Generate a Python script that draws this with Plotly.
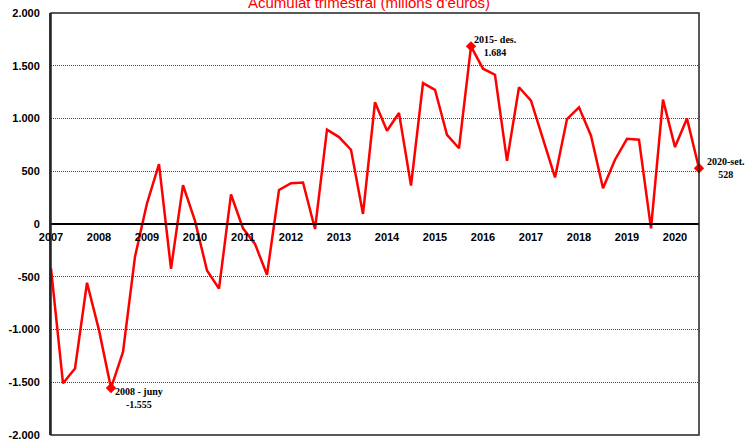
import plotly.graph_objects as go

# quarterly cumulative values, 2007-T1 .. 2020-T3 (milions d'euros)
valors = [
    -420, -1510, -1370, -557,          # 2007
    -1006, -1555, -1212, -310,         # 2008
    196, 567, -425, 368,               # 2009
    30, -440, -613, 280,               # 2010
    -41, -189, -481, 323,              # 2011
    387, 393, -48, 894,                # 2012
    824, 704, 95, 1154,                # 2013
    884, 1052, 364, 1336,              # 2014
    1272, 845, 718, 1684,              # 2015
    1472, 1415, 598, 1296,             # 2016
    1170, 805, 441, 995,               # 2017
    1106, 837, 339, 609,               # 2018
    808, 799, -41, 1179,               # 2019
    729, 999, 528,                     # 2020
]
anys = [str(a) for a in range(2007, 2021)]
y_ticks = [-2000, -1500, -1000, -500, 0, 500, 1000, 1500, 2000]
y_ticktext = ["-2.000", "-1.500", "-1.000", "-500", "0", "500", "1.000", "1.500", "2.000"]

destacats = [5, 35, 54]
destacats_text = ["2008 - juny<br>-1.555", "2015- des.<br>1.684", "2020-set.<br>528"]

x = list(range(len(valors)))

fig = go.Figure()
fig.add_trace(go.Scatter(
    x=x, y=valors, mode="lines",
    line=dict(color="#FF0000", width=2.5),
    hoverinfo="skip",
))
fig.add_trace(go.Scatter(
    x=destacats, y=[valors[i] for i in destacats], mode="markers",
    marker=dict(symbol="diamond", size=8, color="#FF0000"),
    cliponaxis=False, hoverinfo="skip",
))

# point labels
lbl_font = dict(family="Liberation Serif", size=10, color="black")
fig.add_annotation(x=destacats[0], y=valors[destacats[0]], text="<b>" + destacats_text[0] + "</b>",
                   showarrow=False, xanchor="left", yanchor="top", xshift=2, yshift=4,
                   align="center", font=lbl_font)
fig.add_annotation(x=destacats[1], y=valors[destacats[1]], text="<b>" + destacats_text[1] + "</b>",
                   showarrow=False, xanchor="left", yanchor="middle", xshift=1, yshift=0,
                   align="center", font=lbl_font)
fig.add_annotation(x=destacats[2], y=valors[destacats[2]], text="<b>" + destacats_text[2] + "</b>",
                   showarrow=False, xanchor="left", yanchor="middle", xshift=6, yshift=0,
                   align="center", font=lbl_font)

# title, partly cut at the top as in the original
fig.add_annotation(x=0.49, y=1.025, xref="paper", yref="paper",
                   text="Acumulat trimestral (milions d'euros)", showarrow=False,
                   xanchor="center", yanchor="middle",
                   font=dict(family="Liberation Sans", size=15, color="#FF0000"))

# frame
fig.add_shape(type="rect", xref="paper", yref="paper", x0=0, x1=1, y0=0, y1=1,
              line=dict(color="#222222", width=1.5), layer="above")

fig.update_layout(
    width=746, height=441,
    margin=dict(l=51, r=47, t=13, b=6, autoexpand=False),
    plot_bgcolor="white", paper_bgcolor="white",
    showlegend=False,
    xaxis=dict(
        range=[0, len(valors) - 1],
        tickvals=list(range(0, len(valors), 4)), ticktext=anys,
        anchor="free", position=0.5, automargin=False,
        showline=True, linecolor="black", linewidth=1.5,
        showgrid=False, zeroline=False, ticks="", ticklabelstandoff=3,
        tickfont=dict(family="Liberation Sans", size=11, color="black", weight="bold"),
    ),
    yaxis=dict(
        range=[-2000, 2000], automargin=False,
        tickvals=y_ticks, ticktext=y_ticktext,
        showgrid=True, gridcolor="#444444", griddash="1px,1px", gridwidth=1,
        zeroline=False, showline=True, linecolor="#333333", linewidth=2,
        ticks="", ticklen=0, ticklabelstandoff=7,
        tickfont=dict(family="Liberation Sans", size=11, color="black", weight="bold"),
    ),
)

# drop the browser's default body margin so the figure sits at the page corner
fig.write_html("out.html", config={"displayModeBar": False},
               post_script="document.body.style.margin='0';")
